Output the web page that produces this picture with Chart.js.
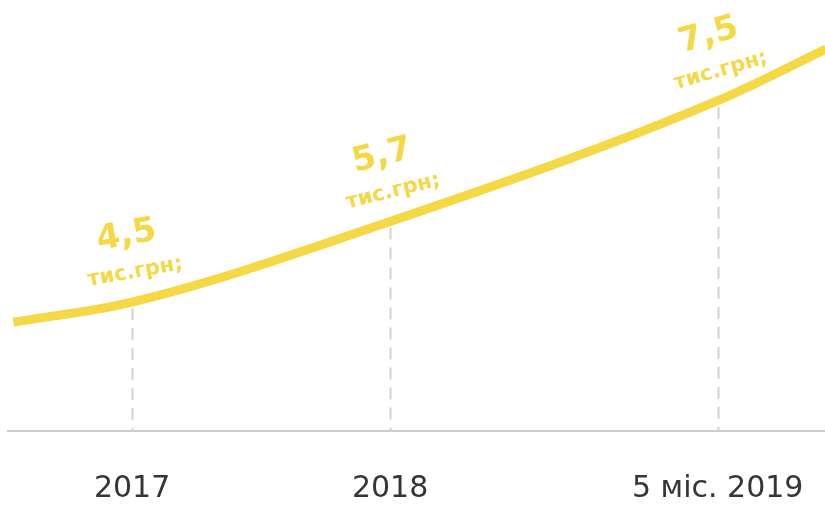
<!DOCTYPE html>
<html>
<head>
<meta charset="utf-8">
<script src="https://cdn.jsdelivr.net/npm/chart.js@4.4.1/dist/chart.umd.min.js"></script>
<style>
  html, body { margin: 0; padding: 0; background: #ffffff; overflow: hidden; }
  #wrap { width: 825px; height: 507px; }
  #salaryChart { display: block; }
</style>
</head>
<body>
<div id="wrap"><canvas id="salaryChart" width="825" height="507"></canvas></div>
<script>
// Average salary, thousand UAH
const categories = ['2017', '2018', '5 міс. 2019'];
const positions = [2017, 2018, 2019.27];   // place on the time axis (years)
const salaries = [4.5, 5.7, 7.5];
const unitLabel = 'тис.грн;';

// where the trend line enters and leaves the plot
const leadIn = [2016.54, 4.2];
const leadOut = [2019.69, 8.27];

const curve = [
  { x: leadIn[0], y: leadIn[1] },
  ...positions.map((p, i) => ({ x: p, y: salaries[i] })),
  { x: leadOut[0], y: leadOut[1] }
];

const YELLOW = '#F4D845';
const labelAngles = [-10, -14, -16];

// dashed drop lines from each labelled point to the axis
const dropLines = {
  id: 'dropLines',
  beforeDatasetsDraw(chart) {
    const { ctx, chartArea, scales } = chart;
    ctx.save();
    ctx.strokeStyle = '#d2d2d2';
    ctx.lineWidth = 2;
    ctx.setLineDash([12, 8]);
    positions.forEach((p, i) => {
      const x = Math.round(scales.x.getPixelForValue(p)) + 0.5;
      const y = scales.y.getPixelForValue(salaries[i]);
      ctx.beginPath();
      ctx.moveTo(x, y + 6);
      ctx.lineTo(x, chartArea.bottom);
      ctx.stroke();
    });
    ctx.restore();
  }
};

// value + unit labels, tilted along the curve
const valueLabels = {
  id: 'valueLabels',
  afterDatasetsDraw(chart) {
    const { ctx } = chart;
    const meta = chart.getDatasetMeta(0);
    ctx.save();
    ctx.fillStyle = YELLOW;
    ctx.textAlign = 'center';
    ctx.textBaseline = 'middle';
    salaries.forEach((v, i) => {
      const pt = meta.data[i + 1];
      ctx.save();
      ctx.translate(pt.x + 3, pt.y - 30);
      ctx.rotate(labelAngles[i] * Math.PI / 180);
      ctx.font = 'bold 21px "DejaVu Sans"';
      ctx.fillText(unitLabel, 0, 0);
      ctx.font = 'bold 34px "DejaVu Sans"';
      ctx.fillText(v.toFixed(1).replace('.', ','), -2, -37);
      ctx.restore();
    });
    ctx.restore();
  }
};

new Chart(document.getElementById('salaryChart'), {
  type: 'line',
  data: {
    datasets: [{
      data: curve,
      borderColor: YELLOW,
      borderWidth: 9,
      borderCapStyle: 'butt',
      pointRadius: 0,
      pointHoverRadius: 0,
      cubicInterpolationMode: 'monotone',
      fill: false,
      clip: false
    }]
  },
  options: {
    responsive: false,
    animation: false,
    events: [],
    layout: { autoPadding: false, padding: { left: 8, right: 0, top: 0, bottom: 0 } },
    plugins: { legend: { display: false }, tooltip: { enabled: false } },
    scales: {
      x: {
        type: 'linear',
        min: 2016.519,
        max: 2019.686,
        afterBuildTicks(scale) {
          scale.ticks = positions.map(p => ({ value: p }));
        },
        afterFit(scale) {
          scale.height = 76;
          scale.paddingLeft = 0;
          scale.paddingRight = 0;
        },
        grid: { display: false, drawTicks: false },
        border: { display: true, color: '#cccccc', width: 2 },
        ticks: {
          autoSkip: false,
          maxRotation: 0,
          padding: 40,
          color: '#353535',
          font: { family: '"DejaVu Sans"', size: 30 },
          callback: (value, index) => categories[index]
        }
      },
      y: {
        display: false,
        min: 2.58,
        max: 9.0
      }
    }
  },
  plugins: [dropLines, valueLabels]
});
</script>
</body>
</html>
